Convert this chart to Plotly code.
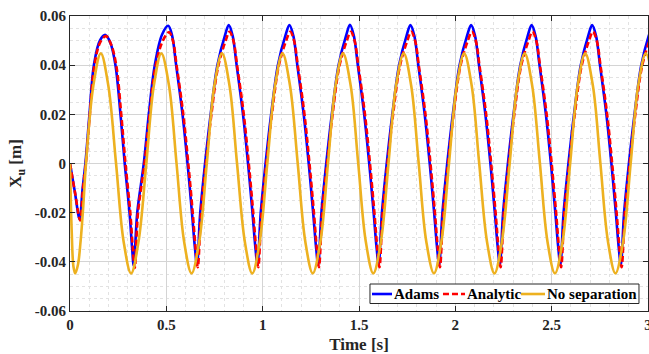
import plotly.graph_objects as go

# ---------------- data ----------------
adams_t = [0.000, 0.025, 0.050, 0.065, 0.080, 0.101, 0.124, 0.155, 0.184, 0.210,
           0.236, 0.262, 0.284, 0.309, 0.322, 0.331, 0.349, 0.383, 0.409, 0.440, 0.478,
           0.510, 0.530, 0.550, 0.584, 0.610, 0.633, 0.648, 0.659, 0.676, 0.701, 0.730, 0.765, 0.804,
           0.824, 0.844, 0.864, 0.898, 0.924, 0.947, 0.962, 0.973, 0.990, 1.015, 1.044, 1.079, 1.118,
           1.139, 1.159, 1.179, 1.213, 1.239, 1.262, 1.277, 1.288, 1.305, 1.330, 1.359, 1.394, 1.433,
           1.453, 1.473, 1.493, 1.527, 1.553, 1.576, 1.591, 1.602, 1.619, 1.644, 1.673, 1.708, 1.747,
           1.767, 1.787, 1.807, 1.841, 1.867, 1.890, 1.905, 1.916, 1.933, 1.958, 1.987, 2.022, 2.061,
           2.082, 2.102, 2.122, 2.156, 2.182, 2.205, 2.220, 2.231, 2.248, 2.273, 2.302, 2.337, 2.376,
           2.396, 2.416, 2.436, 2.470, 2.496, 2.519, 2.534, 2.545, 2.562, 2.587, 2.616, 2.651, 2.690,
           2.710, 2.730, 2.750, 2.784, 2.810, 2.833, 2.848, 2.859, 2.876, 2.901, 2.930, 2.965, 3.004,
           3.024, 3.044]
adams_x = [0.0000, -0.0115, -0.0226, -0.0105, 0.0000, 0.0200, 0.0400, 0.0500, 0.0523, 0.0490,
           0.0400, 0.0200, 0.0000, -0.0200, -0.0340, -0.0416, -0.0200, 0.0000, 0.0200, 0.0400, 0.0525,
           0.0560, 0.0520, 0.0405, 0.0200, 0.0000, -0.0200, -0.0340, -0.0412, -0.0200, 0.0000, 0.0200, 0.0400, 0.0520,
           0.0563, 0.0520, 0.0405, 0.0200, 0.0000, -0.0200, -0.0340, -0.0412, -0.0200, 0.0000, 0.0200, 0.0400, 0.0520,
           0.0563, 0.0520, 0.0405, 0.0200, 0.0000, -0.0200, -0.0340, -0.0412, -0.0200, 0.0000, 0.0200, 0.0400, 0.0520,
           0.0564, 0.0520, 0.0405, 0.0200, 0.0000, -0.0200, -0.0340, -0.0410, -0.0200, 0.0000, 0.0200, 0.0400, 0.0520,
           0.0563, 0.0520, 0.0405, 0.0200, 0.0000, -0.0200, -0.0340, -0.0412, -0.0200, 0.0000, 0.0200, 0.0400, 0.0520,
           0.0563, 0.0520, 0.0405, 0.0200, 0.0000, -0.0200, -0.0340, -0.0412, -0.0200, 0.0000, 0.0200, 0.0400, 0.0520,
           0.0563, 0.0520, 0.0405, 0.0200, 0.0000, -0.0200, -0.0340, -0.0412, -0.0200, 0.0000, 0.0200, 0.0400, 0.0520,
           0.0563, 0.0520, 0.0405, 0.0200, 0.0000, -0.0200, -0.0340, -0.0412, -0.0200, 0.0000, 0.0200, 0.0400, 0.0520,
           0.0563, 0.0520]

analytic_t = [0.000, 0.026, 0.053, 0.067, 0.082, 0.103, 0.127, 0.158, 0.187, 0.213,
              0.240, 0.266, 0.288, 0.313, 0.326, 0.336, 0.353, 0.387, 0.413, 0.444, 0.482,
              0.514, 0.534, 0.554, 0.588, 0.614, 0.637, 0.652, 0.663, 0.680, 0.705, 0.734, 0.769, 0.808,
              0.828, 0.848, 0.868, 0.902, 0.928, 0.951, 0.966, 0.977, 0.994, 1.019, 1.048, 1.083, 1.122,
              1.143, 1.163, 1.183, 1.217, 1.243, 1.266, 1.281, 1.292, 1.309, 1.334, 1.363, 1.398, 1.437,
              1.457, 1.477, 1.497, 1.531, 1.557, 1.580, 1.595, 1.606, 1.623, 1.648, 1.677, 1.712, 1.751,
              1.771, 1.791, 1.811, 1.845, 1.871, 1.894, 1.909, 1.920, 1.937, 1.962, 1.991, 2.026, 2.065,
              2.086, 2.106, 2.126, 2.160, 2.186, 2.209, 2.224, 2.235, 2.252, 2.277, 2.306, 2.341, 2.380,
              2.400, 2.420, 2.440, 2.474, 2.500, 2.523, 2.538, 2.549, 2.566, 2.591, 2.620, 2.655, 2.694,
              2.714, 2.734, 2.754, 2.788, 2.814, 2.837, 2.852, 2.863, 2.880, 2.905, 2.934, 2.969, 3.008,
              3.028, 3.048]
analytic_x = [0.0000, -0.0118, -0.0232, -0.0105, 0.0000, 0.0200, 0.0400, 0.0495, 0.0518, 0.0485,
              0.0400, 0.0200, 0.0000, -0.0200, -0.0345, -0.0425, -0.0200, 0.0000, 0.0200, 0.0395, 0.0500,
              0.0534, 0.0500, 0.0395, 0.0200, 0.0000, -0.0200, -0.0345, -0.0422, -0.0200, 0.0000, 0.0200, 0.0395, 0.0500,
              0.0536, 0.0500, 0.0395, 0.0200, 0.0000, -0.0200, -0.0345, -0.0422, -0.0200, 0.0000, 0.0200, 0.0395, 0.0500,
              0.0536, 0.0500, 0.0395, 0.0200, 0.0000, -0.0200, -0.0345, -0.0422, -0.0200, 0.0000, 0.0200, 0.0395, 0.0500,
              0.0536, 0.0500, 0.0395, 0.0200, 0.0000, -0.0200, -0.0345, -0.0422, -0.0200, 0.0000, 0.0200, 0.0395, 0.0500,
              0.0536, 0.0500, 0.0395, 0.0200, 0.0000, -0.0200, -0.0345, -0.0422, -0.0200, 0.0000, 0.0200, 0.0395, 0.0500,
              0.0536, 0.0500, 0.0395, 0.0200, 0.0000, -0.0200, -0.0345, -0.0422, -0.0200, 0.0000, 0.0200, 0.0395, 0.0500,
              0.0536, 0.0500, 0.0395, 0.0200, 0.0000, -0.0200, -0.0345, -0.0422, -0.0200, 0.0000, 0.0200, 0.0395, 0.0500,
              0.0536, 0.0500, 0.0395, 0.0200, 0.0000, -0.0200, -0.0345, -0.0422, -0.0200, 0.0000, 0.0200, 0.0395, 0.0500,
              0.0536, 0.0500]

nosep_t = [0.000, 0.009, 0.018, 0.027, 0.041, 0.055, 0.069, 0.083, 0.121,
           0.160, 0.199, 0.239, 0.278, 0.317, 0.356, 0.396, 0.435,
           0.474, 0.514, 0.553, 0.592, 0.631, 0.671, 0.710, 0.749,
           0.789, 0.828, 0.867, 0.907, 0.946, 0.985, 1.024, 1.064,
           1.103, 1.142, 1.182, 1.221, 1.260, 1.300, 1.339, 1.378,
           1.417, 1.457, 1.496, 1.535, 1.574, 1.614, 1.653, 1.692,
           1.732, 1.771, 1.810, 1.849, 1.889, 1.928, 1.967, 2.007,
           2.046, 2.085, 2.124, 2.164, 2.203, 2.242, 2.282, 2.321,
           2.360, 2.399, 2.439, 2.478, 2.517, 2.557, 2.596, 2.635,
           2.674, 2.714, 2.753, 2.792, 2.831, 2.871, 2.910, 2.949,
           2.989, 3.028]
nosep_x = [0.0000, -0.0280, -0.0420, -0.0447, -0.0413, -0.0316, -0.0171, 0.0000, 0.0316,
           0.0448, 0.0316, 0.0000, -0.0316, -0.0447, -0.0316, 0.0000, 0.0316,
           0.0448, 0.0316, 0.0000, -0.0316, -0.0447, -0.0316, 0.0000, 0.0316,
           0.0448, 0.0316, 0.0000, -0.0316, -0.0447, -0.0316, 0.0000, 0.0316,
           0.0448, 0.0316, 0.0000, -0.0316, -0.0447, -0.0316, 0.0000, 0.0316,
           0.0448, 0.0316, 0.0000, -0.0316, -0.0447, -0.0316, 0.0000, 0.0316,
           0.0448, 0.0316, 0.0000, -0.0316, -0.0447, -0.0316, 0.0000, 0.0316,
           0.0448, 0.0316, 0.0000, -0.0316, -0.0447, -0.0316, 0.0000, 0.0316,
           0.0448, 0.0316, 0.0000, -0.0316, -0.0447, -0.0316, 0.0000, 0.0316,
           0.0448, 0.0316, 0.0000, -0.0316, -0.0447, -0.0316, 0.0000, 0.0316,
           0.0448, 0.0316]

series_names = ["Adams", "Analytic", "No separation"]
series_colors = ["#0000FF", "#FF0000", "#EDB120"]
x_tickvals = [0, 0.5, 1, 1.5, 2, 2.5, 3]
x_ticktext = ["0", "0.5", "1", "1.5", "2", "2.5", "3"]
y_tickvals = [-0.06, -0.04, -0.02, 0, 0.02, 0.04, 0.06]
y_ticktext = ["-0.06", "-0.04", "-0.02", "0", "0.02", "0.04", "0.06"]

# ---------------- figure ----------------
FONT = "Liberation Serif"
AX = "#262626"
LW = 2.6
RED_DASH = "6px,3px"

fig = go.Figure()
fig.add_trace(go.Scatter(x=adams_t, y=adams_x, mode="lines", name=series_names[0],
                         line=dict(color=series_colors[0], width=LW, shape="spline")))
fig.add_trace(go.Scatter(x=analytic_t, y=analytic_x, mode="lines", name=series_names[1],
                         line=dict(color=series_colors[1], width=LW, shape="spline", dash=RED_DASH)))
fig.add_trace(go.Scatter(x=nosep_t, y=nosep_x, mode="lines", name=series_names[2],
                         line=dict(color=series_colors[2], width=LW, shape="spline")))

common = dict(showline=True, linecolor=AX, linewidth=1, mirror="ticks",
              ticks="inside", ticklen=5, tickcolor=AX, tickwidth=1,
              showgrid=True, gridcolor="#d4d4d4", gridwidth=1,
              zeroline=False, automargin=False, ticklabeloverflow="allow",
              tickfont=dict(family=FONT, size=15, color=AX, weight="bold"))

fig.update_xaxes(range=[0, 3], tickmode="array", tickvals=x_tickvals, ticktext=x_ticktext,
                 minor=dict(tickmode="linear", tick0=0, dtick=0.1, showgrid=True,
                            gridcolor="#e2e2e2", griddash="dot", gridwidth=1),
                 title=dict(text="Time [s]", standoff=6,
                            font=dict(family=FONT, size=17, color=AX, weight="bold")),
                 **common)
fig.update_yaxes(range=[-0.06, 0.06], tickmode="array", tickvals=y_tickvals, ticktext=y_ticktext,
                 minor=dict(tickmode="linear", tick0=0, dtick=0.005, showgrid=True,
                            gridcolor="#e2e2e2", griddash="dot", gridwidth=1),
                 title=dict(text="X<sub>u</sub> [m]", standoff=8,
                            font=dict(family=FONT, size=17, color=AX, weight="bold")),
                 **common)

# ---- compact legend box (bottom right, inside the axes), like the reference ----
leg_box = (0.519, 0.0254, 0.9844, 0.0915)       # x0, y0, x1, y1 in paper units
leg_y = 0.0576
leg_samples = [(0.5225, 0.5571), (0.6453, 0.6834), (0.7803, 0.8218)]
leg_text_x = [0.5590, 0.6845, 0.8228]

shapes = [dict(type="rect", xref="paper", yref="paper",
               x0=leg_box[0], y0=leg_box[1], x1=leg_box[2], y1=leg_box[3],
               line=dict(color="#262626", width=1), fillcolor="white", layer="above")]
annotations = []
for i, name in enumerate(series_names):
    shapes.append(dict(type="line", xref="paper", yref="paper",
                       x0=leg_samples[i][0], x1=leg_samples[i][1], y0=leg_y, y1=leg_y,
                       line=dict(color=series_colors[i], width=LW,
                                 dash=RED_DASH if i == 1 else "solid"),
                       layer="above"))
    annotations.append(dict(xref="paper", yref="paper", x=leg_text_x[i], y=leg_y,
                            xanchor="left", yanchor="middle", showarrow=False,
                            text=name, borderpad=0,
                            font=dict(family=FONT, size=15, color="#000000", weight="bold")))

fig.update_layout(
    width=649, height=354,
    margin=dict(l=70, r=1, t=16, b=43),
    paper_bgcolor="white", plot_bgcolor="white",
    showlegend=False,
    shapes=shapes, annotations=annotations,
)

fig.write_html("out.html")
